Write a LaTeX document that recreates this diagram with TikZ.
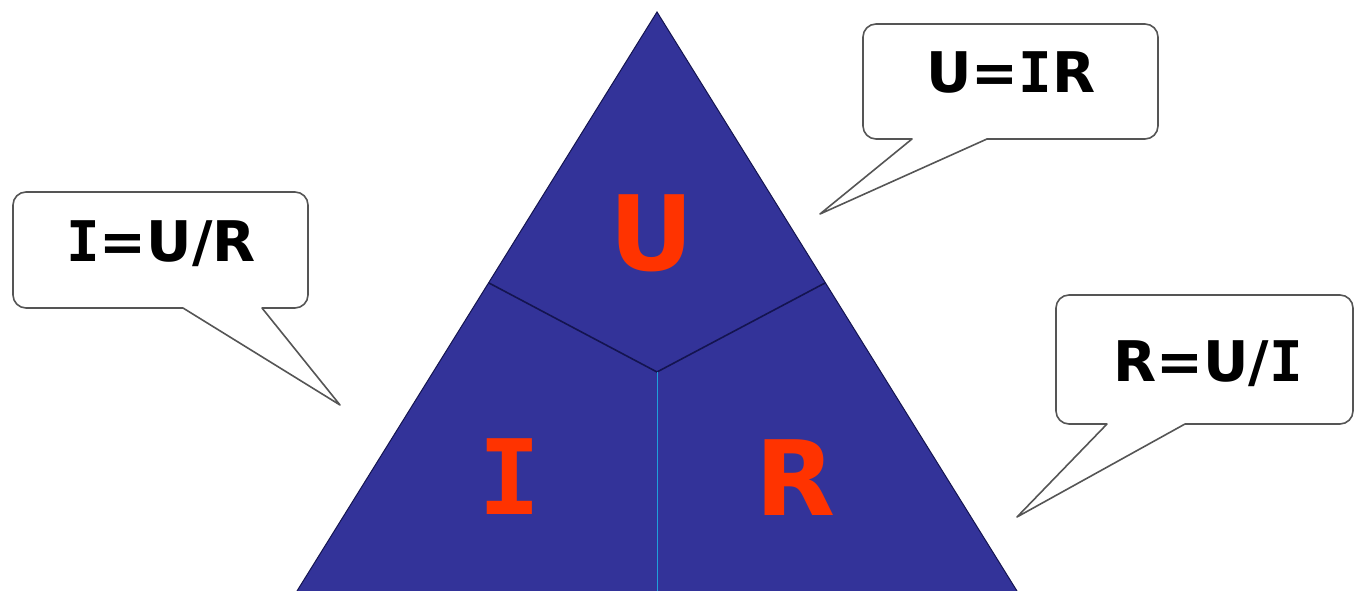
\documentclass[tikz,border=0pt]{standalone}
\usepackage{fontspec}
\setmainfont{DejaVu Sans}
\newfontfamily\serifI{DejaVu Sans Mono}
\newcommand\VI{{\serifI I}}
\definecolor{triblue}{RGB}{51,51,153}
\definecolor{letred}{RGB}{255,51,0}
\definecolor{divline}{RGB}{20,20,80}
\definecolor{midline}{RGB}{30,160,220}
\definecolor{bubline}{RGB}{85,85,85}
\newcommand\mybubble[8]{% L R B T baseL baseR tipx tipy
  \draw[bubble] (#7,#8) -- (#6,#3) -- ({#2-13},#3) arc[start angle=-90,end angle=0,radius=13]
    -- (#2,{#4-13}) arc[start angle=0,end angle=90,radius=13]
    -- ({#1+13},#4) arc[start angle=90,end angle=180,radius=13]
    -- (#1,{#3+13}) arc[start angle=180,end angle=270,radius=13]
    -- (#5,#3) -- cycle;}
\begin{document}
\begin{tikzpicture}[x=1pt,y=1pt,
  bubble/.style={draw=bubline,fill=white,line width=1.6pt,line join=round},
  formula/.style={font=\fontsize{56}{60}\selectfont\bfseries,text=black,inner sep=0pt,anchor=base},
  bigletter/.style={font=\fontsize{104}{110}\selectfont\bfseries,text=letred,inner sep=0pt,anchor=base}]
\useasboundingbox (0,0) rectangle (1355,591);
% triangle
\coordinate (apex) at (657,579);
\coordinate (bl) at (297,0);
\coordinate (br) at (1017,0);
\coordinate (pl) at (489,308);
\coordinate (pr) at (825,308);
\coordinate (ctr) at (657,219);
\coordinate (bm) at (657,0);
\fill[triblue] (apex) -- (bl) -- (br) -- cycle;
\draw[divline,line width=1pt] (bl) -- (apex) -- (br);
\draw[divline,line width=1.6pt] (pl) -- (ctr) -- (pr);
\draw[midline,line width=1pt] (ctr) -- (bm);
\node[bigletter] (U) at (652,320) {U};
\node[bigletter] (I) at (510,76) {\VI};
\node[bigletter] (R) at (796,75) {R};
% bubbles
\mybubble{863}{1158}{452}{567}{912}{987}{820}{377}
\node[formula] (f1) at (1011,498) {U=\VI R};
\mybubble{13}{308}{283}{399}{183}{262}{340}{186}
\node[formula] (f2) at (161,329) {\VI=U/R};
\mybubble{1056}{1353}{167}{296}{1107}{1185}{1017}{74}
\node[formula] (f3) at (1208,209) {R=U/\VI};
\end{tikzpicture}
\end{document}
